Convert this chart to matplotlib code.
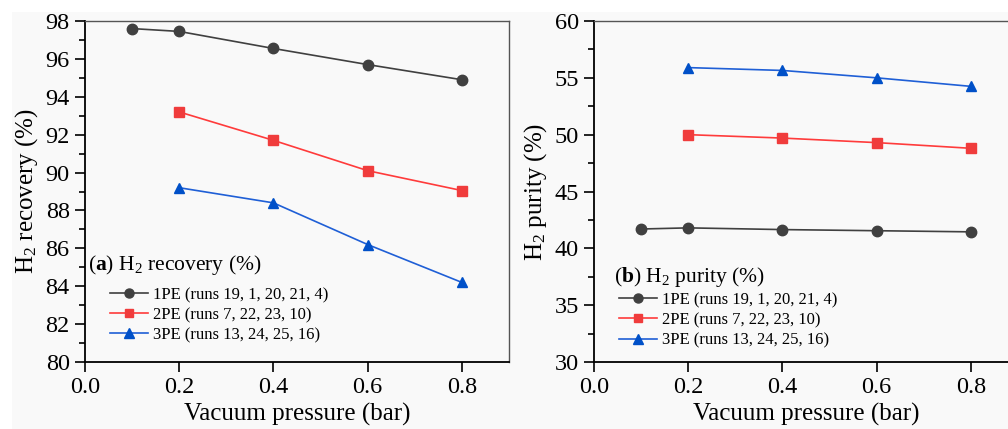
from matplotlib import pyplot as plt
from matplotlib.patches import Rectangle
from matplotlib.lines import Line2D

plt.rcParams['font.family'] = ['Liberation Serif', 'DejaVu Serif']
plt.rcParams['mathtext.fontset'] = 'custom'
plt.rcParams['mathtext.rm'] = 'Liberation Serif'
plt.rcParams['mathtext.bf'] = 'Liberation Serif:bold'
plt.rcParams['mathtext.it'] = 'Liberation Serif:italic'

# data
pressure_1pe = [0.1, 0.2, 0.4, 0.6, 0.8]
pressure_npe = [0.2, 0.4, 0.6, 0.8]

recovery_1pe = [97.6, 97.45, 96.55, 95.7, 94.9]
recovery_2pe = [93.2, 91.7, 90.1, 89.05]
recovery_3pe = [89.2, 88.4, 86.2, 84.2]

purity_1pe = [41.7, 41.8, 41.65, 41.55, 41.45]
purity_2pe = [50.0, 49.7, 49.3, 48.8]
purity_3pe = [55.9, 55.65, 55.0, 54.25]

labels = ['1PE (runs 19, 1, 20, 21, 4)',
          '2PE (runs 7, 22, 23, 10)',
          '3PE (runs 13, 24, 25, 16)']
line_colors = ['#404040', '#ff3b3b', '#1f5fd6']
face_colors = ['#404040', '#f03c3c', '#0050c8']
markers = ['o', 's', '^']

bg = '#f9f9f9'
fig = plt.figure(figsize=(10.08, 4.29), dpi=100, facecolor='white')
fig.patches.append(Rectangle((12 / 1008, 0), 1, 1 - 12 / 429,
                             transform=fig.transFigure, facecolor=bg,
                             edgecolor='none', zorder=-10))

ax1 = fig.add_axes([85 / 1008, 1 - 362 / 429, 424 / 1008, 341 / 429])
ax2 = fig.add_axes([594 / 1008, 1 - 362 / 429, 424 / 1008, 341 / 429])


def draw(ax, series, ylim, yticks, minor, ylabel, title, title_xy, leg_xy):
    ax.set_facecolor(bg)
    for (x, y), lc, fc, m in zip(series, line_colors, face_colors, markers):
        ax.plot(x, y, color=lc, lw=1.2, marker=m, ms=7.5 if m != 's' else 6.8,
                mfc=fc, mec=fc)
    ax.set_xlim(0, 0.9)
    ax.set_ylim(*ylim)
    ax.set_xticks([0.0, 0.2, 0.4, 0.6, 0.8])
    ax.set_xticklabels(['0.0', '0.2', '0.4', '0.6', '0.8'])
    ax.set_yticks(yticks)
    ax.set_yticks(minor, minor=True)
    ax.tick_params(axis='both', which='major', labelsize=17.5, direction='out',
                   length=7, width=1.2, pad=4)
    ax.tick_params(axis='y', which='minor', direction='out', length=4, width=1.2)
    for s in ['left', 'bottom']:
        ax.spines[s].set_linewidth(1.3)
        ax.spines[s].set_color('black')
    for s in ['top', 'right']:
        ax.spines[s].set_linewidth(1.0)
        ax.spines[s].set_color('#555555')
    ax.set_xlabel('Vacuum pressure (bar)', fontsize=18, labelpad=3)
    ax.set_ylabel(ylabel, fontsize=18, labelpad=4)
    ax.text(title_xy[0], title_xy[1], title, transform=ax.transAxes,
            fontsize=15.5, ha='left', va='center')
    handles = [Line2D([], [], color=lc, lw=1.2, marker=m, mfc=fc, mec=fc,
                      ms=6.5 if m != 's' else 6)
               for lc, fc, m in zip(line_colors, face_colors, markers)]
    ax.legend(handles, labels, loc='upper left', bbox_to_anchor=leg_xy,
              frameon=False, fontsize=12, handlelength=2.3, handletextpad=0.3,
              labelspacing=0.25, borderpad=0, borderaxespad=0)


draw(ax1,
     [(pressure_1pe, recovery_1pe), (pressure_npe, recovery_2pe),
      (pressure_npe, recovery_3pe)],
     (80, 98), list(range(80, 99, 2)), list(range(81, 98, 2)),
     'H$_2$ recovery (%)', r'($\mathbf{a}$) H$_2$ recovery (%)',
     (0.007, 0.285), (0.058, 0.22))

draw(ax2,
     [(pressure_1pe, purity_1pe), (pressure_npe, purity_2pe),
      (pressure_npe, purity_3pe)],
     (30, 60), list(range(30, 61, 5)), [32.5, 37.5, 42.5, 47.5, 52.5, 57.5],
     'H$_2$ purity (%)', r'($\mathbf{b}$) H$_2$ purity (%)',
     (0.047, 0.25), (0.059, 0.205))

fig.savefig('out.png', dpi=100, facecolor='white')
